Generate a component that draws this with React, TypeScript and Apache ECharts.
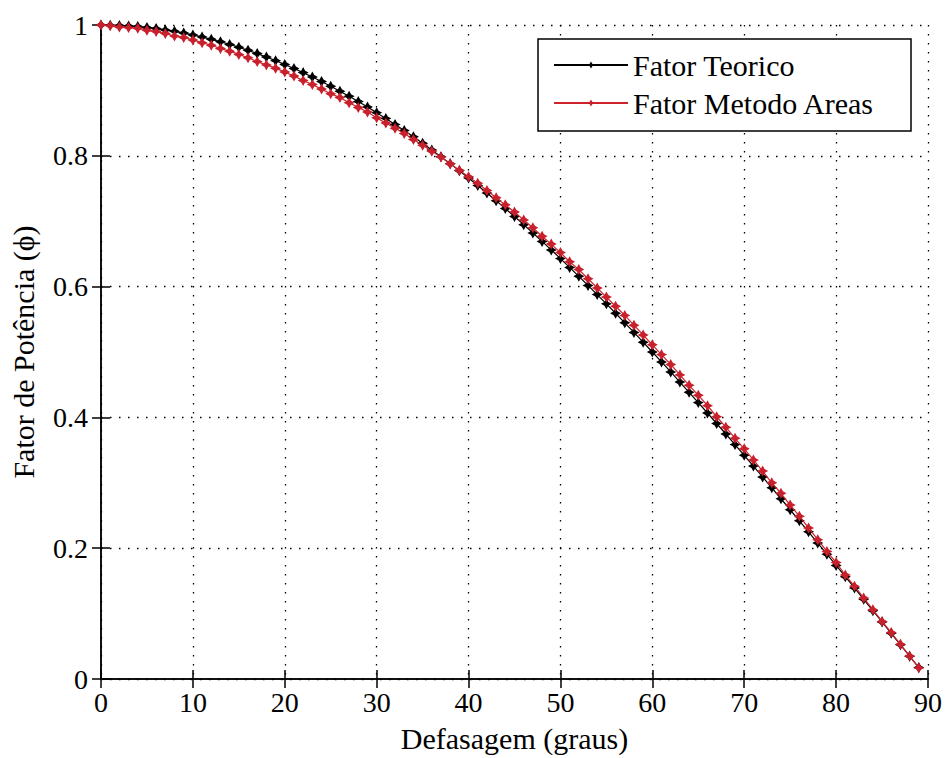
import React, { useEffect, useRef } from "react";
import * as echarts from "echarts";

const angles: number[] = [
  0, 1, 2, 3, 4, 5, 6, 7, 8, 9, 10, 11, 12, 13, 14, 15, 16, 17, 18, 19,
  20, 21, 22, 23, 24, 25, 26, 27, 28, 29, 30, 31, 32, 33, 34, 35, 36, 37, 38, 39,
  40, 41, 42, 43, 44, 45, 46, 47, 48, 49, 50, 51, 52, 53, 54, 55, 56, 57, 58, 59,
  60, 61, 62, 63, 64, 65, 66, 67, 68, 69, 70, 71, 72, 73, 74, 75, 76, 77, 78, 79,
  80, 81, 82, 83, 84, 85, 86, 87, 88, 89,
];

const fatorTeorico: number[] = [
  1.0, 0.9998, 0.9994, 0.9986, 0.9976, 0.9962, 0.9945, 0.9925, 0.9903, 0.9877,
  0.9848, 0.9816, 0.9781, 0.9744, 0.9703, 0.9659, 0.9613, 0.9563, 0.9511, 0.9455,
  0.9397, 0.9336, 0.9272, 0.9205, 0.9135, 0.9063, 0.8988, 0.891, 0.8829, 0.8746,
  0.866, 0.8572, 0.848, 0.8387, 0.829, 0.8192, 0.809, 0.7986, 0.788, 0.7771,
  0.766, 0.7547, 0.7431, 0.7314, 0.7193, 0.7071, 0.6947, 0.682, 0.6691, 0.6561,
  0.6428, 0.6293, 0.6157, 0.6018, 0.5878, 0.5736, 0.5592, 0.5446, 0.5299, 0.515,
  0.5, 0.4848, 0.4695, 0.454, 0.4384, 0.4226, 0.4067, 0.3907, 0.3746, 0.3584,
  0.342, 0.3256, 0.309, 0.2924, 0.2756, 0.2588, 0.2419, 0.225, 0.2079, 0.1908,
  0.1736, 0.1564, 0.1392, 0.1219, 0.1045, 0.0872, 0.0698, 0.0523, 0.0349, 0.0175,
];

const fatorMetodoAreas: number[] = [
  1.0, 0.999, 0.997, 0.996, 0.995, 0.992, 0.99, 0.987, 0.983, 0.981,
  0.977, 0.973, 0.969, 0.964, 0.96, 0.955, 0.95, 0.944, 0.939, 0.934,
  0.928, 0.922, 0.915, 0.909, 0.902, 0.895, 0.889, 0.881, 0.874, 0.867,
  0.858, 0.85, 0.842, 0.834, 0.825, 0.816, 0.807, 0.798, 0.788, 0.778,
  0.768, 0.758, 0.747, 0.736, 0.725, 0.714, 0.702, 0.69, 0.677, 0.665,
  0.652, 0.638, 0.626, 0.612, 0.598, 0.584, 0.57, 0.556, 0.541, 0.526,
  0.511, 0.496, 0.481, 0.465, 0.449, 0.434, 0.418, 0.401, 0.385, 0.368,
  0.352, 0.335, 0.318, 0.3, 0.284, 0.266, 0.249, 0.231, 0.213, 0.195,
  0.178, 0.159, 0.142, 0.124, 0.106, 0.088, 0.071, 0.053, 0.035, 0.017,
];

const seriesNames: string[] = ["Fator Teorico", "Fator Metodo Areas"];
const xTitle = "Defasagem (graus)";
const yTitle = "Fator de Potência (ϕ)";

const FONT = "Liberation Serif";
const STAR =
  "path://M0,-5 L1.8,-1.8 L5,0 L1.8,1.8 L0,5 L-1.8,1.8 L-5,0 L-1.8,-1.8 Z";

export default function App() {
  const ref = useRef<HTMLDivElement>(null);
  useEffect(() => {
    if (!ref.current) return;
    const chart = echarts.init(ref.current, undefined, { renderer: "svg" });
    const axisLine = { show: true, lineStyle: { color: "#000", width: 1.5 } };
    const tick = { show: true, inside: true, length: 9, lineStyle: { color: "#000", width: 1.5 } };
    const split = { show: true, lineStyle: { color: "#000", width: 1.3, type: [1.5, 7.5] } };
    const tickTxt = { fontFamily: FONT, fontSize: 28, color: "#000" };
    const titleTxt = { fontFamily: FONT, fontSize: 30, color: "#000" };
    chart.setOption({
      animation: false,
      backgroundColor: "#fff",
      grid: { left: 101, right: 21, top: 25, bottom: 79, containLabel: false },
      xAxis: [
        {
          type: "value",
          min: 0,
          max: 90,
          interval: 10,
          name: xTitle,
          nameLocation: "middle",
          nameGap: 44,
          nameTextStyle: titleTxt,
          axisLine,
          axisTick: tick,
          splitLine: split,
          axisLabel: { ...tickTxt, margin: 9 },
        },
        {
          type: "value",
          position: "top",
          min: 0,
          max: 90,
          interval: 10,
          axisLine,
          axisTick: tick,
          splitLine: { show: false },
          axisLabel: { show: false },
        },
      ],
      yAxis: [
        {
          type: "value",
          min: 0,
          max: 1,
          interval: 0.2,
          name: yTitle,
          nameLocation: "middle",
          nameGap: 63,
          nameTextStyle: titleTxt,
          axisLine,
          axisTick: tick,
          splitLine: split,
          axisLabel: { ...tickTxt, margin: 13 },
        },
        {
          type: "value",
          position: "right",
          min: 0,
          max: 1,
          interval: 0.2,
          axisLine,
          axisTick: tick,
          splitLine: { show: false },
          axisLabel: { show: false },
        },
      ],
      graphic: [
        {
          type: "rect",
          z: 3,
          shape: { x: 538, y: 39, width: 373, height: 92 },
          style: { fill: "#fff", stroke: "#000", lineWidth: 1.5 },
        },
      ],
      legend: {
        z: 5,
        left: 553,
        top: 50,
        orient: "vertical",
        itemWidth: 74,
        itemHeight: 9,
        itemGap: 8,
        padding: 0,
        textStyle: { ...titleTxt, lineHeight: 30 },
        data: seriesNames,
      },
      series: [
        {
          name: seriesNames[0],
          type: "line",
          data: angles.map((a, i) => [a, fatorTeorico[i]]),
          symbol: STAR,
          symbolSize: 11,
          showSymbol: true,
          lineStyle: { color: "#000", width: 1.2 },
          itemStyle: { color: "#000" },
          z: 2,
        },
        {
          name: seriesNames[1],
          type: "line",
          data: angles.map((a, i) => [a, fatorMetodoAreas[i]]),
          symbol: STAR,
          symbolSize: 11,
          showSymbol: true,
          lineStyle: { color: "#d0222a", width: 1.2 },
          itemStyle: { color: "#c8202c" },
          z: 3,
        },
      ],
    });
    return () => chart.dispose();
  }, []);
  return (
    <div
      ref={ref}
      style={{ position: "fixed", left: 0, top: 0, width: 949, height: 758 }}
    />
  );
}
